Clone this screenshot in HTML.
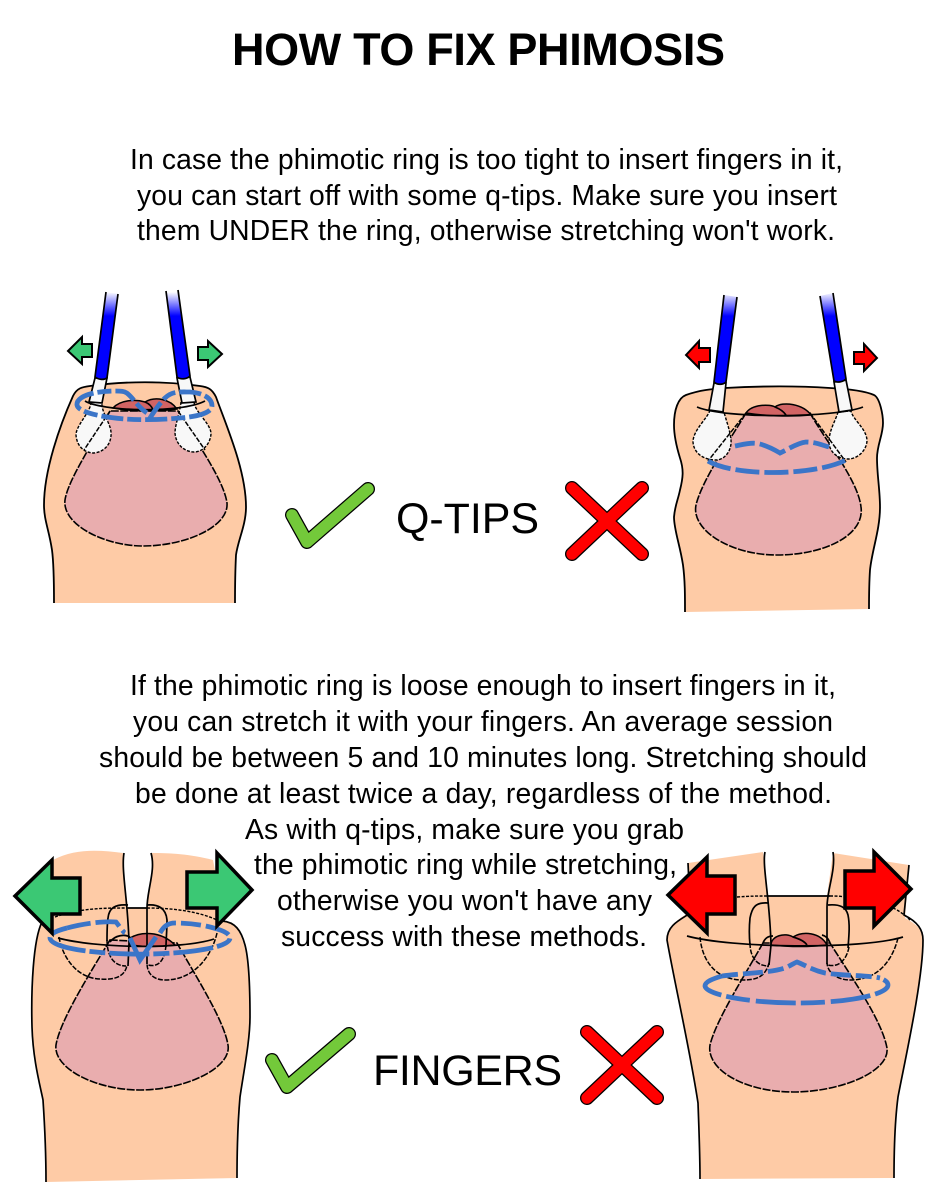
<!DOCTYPE html>
<html><head><meta charset="utf-8"><style>
html,body{margin:0;padding:0;background:#fff;width:940px;height:1200px;overflow:hidden}
svg{display:block}
text{font-family:"Liberation Sans",sans-serif;fill:#000}
.b{font-size:28.3px}
.sk{fill:#fecba6;stroke:#000;stroke-width:1.8;stroke-linejoin:round}
.pk{fill:#e9adae;stroke:#000;stroke-width:1.6;stroke-dasharray:8 1.5}
.gl{fill:#d26464;stroke:#000;stroke-width:1.5}
.ln{fill:none;stroke:#000;stroke-width:1.7}
.dt{fill:none;stroke:#000;stroke-width:1.4;stroke-dasharray:3 1.5}
.ds{fill:none;stroke:#000;stroke-width:1.5;stroke-dasharray:5 1.5}
.bl{fill:none;stroke:#3b75c8;stroke-width:4.8}
.ct{fill:#f8f8f8;stroke:#000;stroke-width:1.4;stroke-dasharray:3 1.5}
.wh{fill:#f8f8f8;stroke:#000;stroke-width:1.7}
.st{fill:url(#g);stroke:#000;stroke-width:1.7}
.ga{fill:#3bc874;stroke:#000;stroke-width:2}
.ra{fill:#f00;stroke:#000;stroke-width:2}
.ga2{fill:#3bc874;stroke:#000;stroke-width:3.5}
.ra2{fill:#f00;stroke:#000;stroke-width:3.5}
</style></head><body>
<svg width="940" height="1200" viewBox="0 0 940 1200" xmlns="http://www.w3.org/2000/svg">
<defs><linearGradient id="g" x1="0" y1="292" x2="0" y2="316" gradientUnits="userSpaceOnUse"><stop offset="0" stop-color="#fff"/><stop offset="1" stop-color="#00f"/></linearGradient></defs>
<rect width="940" height="1200" fill="#fff"/>
<text x="232" y="65" font-size="45" font-weight="bold" textLength="493">HOW TO FIX PHIMOSIS</text>
<text class="b" x="130" y="169" textLength="713">In case the phimotic ring is too tight to insert fingers in it,</text>
<text class="b" x="137" y="205" textLength="700">you can start off with some q-tips. Make sure you insert</text>
<text class="b" x="137" y="240" textLength="698">them UNDER the ring, otherwise stretching won't work.</text>
<text class="b" x="130" y="695" textLength="706">If the phimotic ring is loose enough to insert fingers in it,</text>
<text class="b" x="133" y="731" textLength="700">you can stretch it with your fingers. An average session</text>
<text class="b" x="99" y="767" textLength="768">should be between 5 and 10 minutes long. Stretching should</text>
<text class="b" x="135" y="803" textLength="697">be done at least twice a day, regardless of the method.</text>
<text class="b" x="245" y="839" textLength="439">As with q-tips, make sure you grab</text>
<text class="b" x="254" y="874" textLength="423">the phimotic ring while stretching,</text>
<text class="b" x="277" y="910" textLength="375">otherwise you won't have any</text>
<text class="b" x="281" y="946" textLength="366">success with these methods.</text>
<text x="396" y="533" font-size="43" textLength="143">Q-TIPS</text>
<text x="373" y="1085" font-size="43" textLength="189">FINGERS</text>

<!-- panel 1 -->
<path class="sk" d="M54 603C54 585 54 565 52 550C49 530 44 520 44 505C44 470 60 425 73 396C77 388 82 387 90 386C125 381 165 381 200 386C208 387 212 389 216 397C226 425 246 470 246 507C246 525 238 540 236 555C235 575 235 590 235 603"/>
<path class="pk" d="M110 411C92 445 68 480 65 500C62 525 105 546 143 546C185 546 229 527 227 503C224 480 195 440 178 411Z"/>
<path class="gl" d="M113 408C120 400 135 399 145 402C155 396 170 399 177 409C155 412 135 412 113 408Z"/>
<path class="ln" d="M145 402C150 404 152 407 153 410"/>
<path class="ct" d="M91 402C91 412 76 425 76 435C77 448 86 453 94 453C104 452 112 444 111 432C110 422 101 412 102 402Z"/>
<path class="ct" d="M181 402C180 412 175 425 175 433C176 446 186 452 194 452C204 452 211 442 211 433C210 423 195 412 194 402Z"/>
<path class="ln" d="M85 401C100 411 180 414 205 401"/>
<path class="wh" d="M95 378L107 378L102 403L89 402Z"/>
<path class="st" d="M106 292L95 377C99 380 104 380 107 378L118 294"/>
<path class="wh" d="M177 378L190 377L196 402L182 403Z"/>
<path class="st" d="M166 291L177 377C181 380 187 379 190 376L178 290"/>
<path d="M110 411L84 450" class="ds"/>
<path d="M178 411L205 450" class="ds"/>
<path class="bl" stroke-dasharray="22 4 14 4" d="M77 405C76 396 95 391 115 391C120 391 125 391 128 394C133 398 138 407 147 413C150 416 152 418 150 418C155 410 160 403 165 398C172 391 180 392 190 392C203 393 212 398 212 406C212 413 195 417 180 418C160 420 140 420 125 419C100 417 78 412 77 405Z"/>
<path class="ga" d="M68 351L82 337V344H92V357H82V364Z"/>
<path class="ga" d="M222 354L208 341V347H198V360H208V367Z"/>

<!-- panel 2 -->
<path class="sk" d="M685 612C685 595 685 580 683 565C680 545 674 530 674 517C675 505 678 500 680 490C683 478 684 470 680 458C676 445 674 435 674 425C674 410 678 398 686 395C700 390 712 389 725 388C760 386 800 386 830 388C850 389 865 391 874 395C880 398 883 415 883 423C883 435 877 445 877 458C877 475 880 490 880 507C880 530 872 550 870 570C869 585 869 600 869 609"/>
<path class="pk" d="M746 413C730 440 702 480 696 505C691 530 730 555 777 555C825 555 865 535 861 507C858 480 825 440 810 413Z"/>
<path class="gl" d="M746 413C752 404 770 404 775 407C783 401 803 404 811 415C790 417 765 416 746 413Z"/>
<path class="ln" d="M775 407C780 409 784 412 786 415"/>
<path class="ct" d="M710 410C708 418 693 430 693 442C694 455 706 460 716 460C725 460 732 450 731 440C730 430 726 420 724 412Z"/>
<path class="ct" d="M838 412C836 420 829 430 829 442C829 452 838 459 848 459C858 459 867 450 867 440C866 428 853 420 851 411Z"/>
<path class="ln" d="M697 407C725 419 835 418 863 407"/>
<path class="wh" d="M714 383L726 383L723 412L709 410Z"/>
<path class="st" d="M724 295L714 382C717 385 723 385 726 382L737 297"/>
<path class="wh" d="M834 382L846 380L852 410L839 412Z"/>
<path class="st" d="M820 296L834 381C837 383 843 382 846 379L833 293"/>
<path d="M746 413L708 461" class="ds"/>
<path d="M810 413L846 462" class="ds"/>
<path class="bl" stroke-dasharray="24 5" d="M708 461C735 477 815 476 846 460"/>
<path class="bl" stroke-dasharray="20 5 28 5" d="M735 446C745 444 752 442 760 444C767 446 775 450 780 453C787 450 797 443 806 442C815 442 822 445 829 447"/>
<path class="ra" d="M686 355L699 341V348H710V362H699V368Z"/>
<path class="ra" d="M877 358L864 344V352H854V364H864V371Z"/>

<!-- panel 3 -->
<path style="stroke:none;fill:#fecba6" d="M46 1182L237 1178C237 1150 238 1120 240 1097C244 1070 250 1040 250 1017C250 990 248 960 244 945C240 932 236 923 225 921L213 860C190 854 170 853 151 853C155 870 147 890 147 908H128C126 890 122 870 123 853C100 850 75 848 53 860L44 918C36 935 32 960 32 1027C34 1060 40 1085 43 1100C45 1130 46 1160 46 1182Z"/>
<path class="ln" d="M46 1182C46 1160 45 1130 43 1100C40 1085 33 1060 32 1027C31 990 33 940 42 922"/>
<path class="ln" d="M222 921C235 922 241 930 245 945C249 960 250 990 250 1017C250 1040 244 1070 240 1097C238 1120 237 1150 237 1178"/>
<path class="pk" d="M110 940C92 970 60 1020 56 1045C53 1068 95 1090 140 1090C185 1090 232 1068 228 1045C224 1020 195 975 177 943Z"/>
<path class="gl" d="M130 938C140 932 160 930 175 945C160 947 145 947 130 945Z"/>
<path class="ds" d="M59 937C62 955 75 978 100 979C112 980 125 978 127 965"/>
<path class="ds" d="M217 933C212 955 195 980 165 980C155 980 147 975 147 963"/>
<path class="ds" d="M107 940C107 950 110 966 126 966"/>
<path class="ds" d="M166 945C165 958 160 968 148 965"/>
<path class="ln" d="M110 942C115 935 125 934 130 937"/>
<path class="dt" d="M55 917C80 908 105 908 128 908M147 908C175 908 200 912 217 920"/>
<path class="ln" d="M128 908H147"/>
<path class="ln" d="M58 938C95 948 180 950 214 939"/>
<path class="ln" d="M124 853C121 870 128 900 129 943L128 966"/>
<path class="ln" d="M151 853C156 870 147 890 147 908L147 964"/>
<path class="ln" d="M128 905C115 904 109 908 108 918C107 925 107 935 107 941"/>
<path class="ln" d="M147 905C158 904 166 908 167 920C167 930 166 940 166 947"/>
<path class="bl" stroke-dasharray="24 5 26 5" d="M67 928C85 923 105 921 116 922C120 927 123 932 125 933"/>
<path class="bl" stroke-dasharray="20 5" d="M160 933C164 926 168 923 175 923C190 923 205 925 217 929"/>
<path class="bl" stroke-dasharray="16 4 40 4" d="M67 928C55 931 50 934 50 938C51 947 85 953 130 954C170 955 229 950 230 938C230 934 224 931 217 929"/>
<path class="bl" d="M130 938L140 960L156 937"/>
<path class="ga2" d="M15 896L52 860V878H80V914H52V933Z"/>
<path class="ga2" d="M252 890L217 853V872H187V908H217V926Z"/>

<!-- panel 4 -->
<path d="M700 1179L894 1178C894 1150 895 1120 898 1097C905 1060 923 980 923 940C922 930 918 925 905 918L909 865L833 853L827 896H768L763 852L688 863L690 912C680 918 668 925 667 940C675 985 690 1050 698 1103C699 1130 700 1155 700 1179Z" fill="#fecba6"/>
<path class="ln" d="M700 1179C700 1155 699 1130 698 1103C690 1050 675 985 667 940C667 925 680 920 692 912"/>
<path class="ln" d="M688 863L690 905M909 865L904 915C918 922 923 930 923 940C923 980 905 1060 898 1097C895 1120 894 1150 894 1178"/>
<path class="pk" d="M763 943C745 975 716 1020 710 1045C706 1070 745 1092 793 1092C840 1092 890 1072 887 1048C882 1020 850 975 830 943Z"/>
<path class="gl" d="M771 945C771 936 785 932 793 937C803 931 820 932 827 945C810 947 790 947 771 945Z"/>
<path class="ln" d="M793 937C800 939 805 942 807 945"/>
<path class="ln" d="M763 943C765 938 768 936 773 936M830 943C828 938 826 936 822 935"/>
<path class="ds" d="M700 937C702 960 715 980 743 980C755 980 765 978 769 963"/>
<path class="ds" d="M898 938C893 958 880 980 850 980C840 980 828 975 827 963"/>
<path class="ds" d="M750 943C750 955 755 966 769 966"/>
<path class="ds" d="M849 947C847 958 840 968 828 965"/>
<path class="dt" d="M737 897C750 896 760 896 768 896M830 896C835 896 840 896 845 897M893 908C898 910 905 915 910 920"/>
<path class="ln" d="M768 896H830"/>
<path class="ln" d="M687 936C730 948 860 950 903 937"/>
<path class="ln" d="M765 852C762 865 770 900 771 945L769 965"/>
<path class="ln" d="M833 852C836 870 827 890 827 907L827 964"/>
<path class="ln" d="M768 903C755 902 752 908 750 918C749 928 749 935 750 945"/>
<path class="ln" d="M828 905C840 904 846 907 848 915C850 925 849 935 848 948"/>
<path class="bl" stroke-dasharray="16 5 20 5" d="M722 976C745 973 770 973 785 968C790 966 794 963 797 962C805 965 812 970 825 973C845 976 865 975 880 978"/>
<path class="bl" stroke-dasharray="40 5 24 6" d="M722 976C712 979 705 982 705 986C706 995 750 1003 797 1003C845 1003 888 995 888 985C888 982 885 980 880 978"/>
<path class="ra2" d="M668 895L707 857V876H735V914H707V933Z"/>
<path class="ra2" d="M911 889L874 852V871H845V908H874V926Z"/>

<!-- checks and crosses -->
<g fill="none" stroke-linecap="round" stroke-linejoin="round">
<path d="M292 515L307 542L368 489" stroke="#000" stroke-width="14"/>
<path d="M292 515L307 542L368 489" stroke="#73c93a" stroke-width="11.5"/>
<path d="M572 488L642 554M642 488L572 554" stroke="#000" stroke-width="14"/>
<path d="M572 488L642 554M642 488L572 554" stroke="#f00" stroke-width="11.5"/>
<path d="M272 1060L287 1087L349 1034" stroke="#000" stroke-width="14"/>
<path d="M272 1060L287 1087L349 1034" stroke="#73c93a" stroke-width="11.5"/>
<path d="M587 1032L657 1098M657 1032L587 1098" stroke="#000" stroke-width="14"/>
<path d="M587 1032L657 1098M657 1032L587 1098" stroke="#f00" stroke-width="11.5"/>
</g>
</svg>
</body></html>
